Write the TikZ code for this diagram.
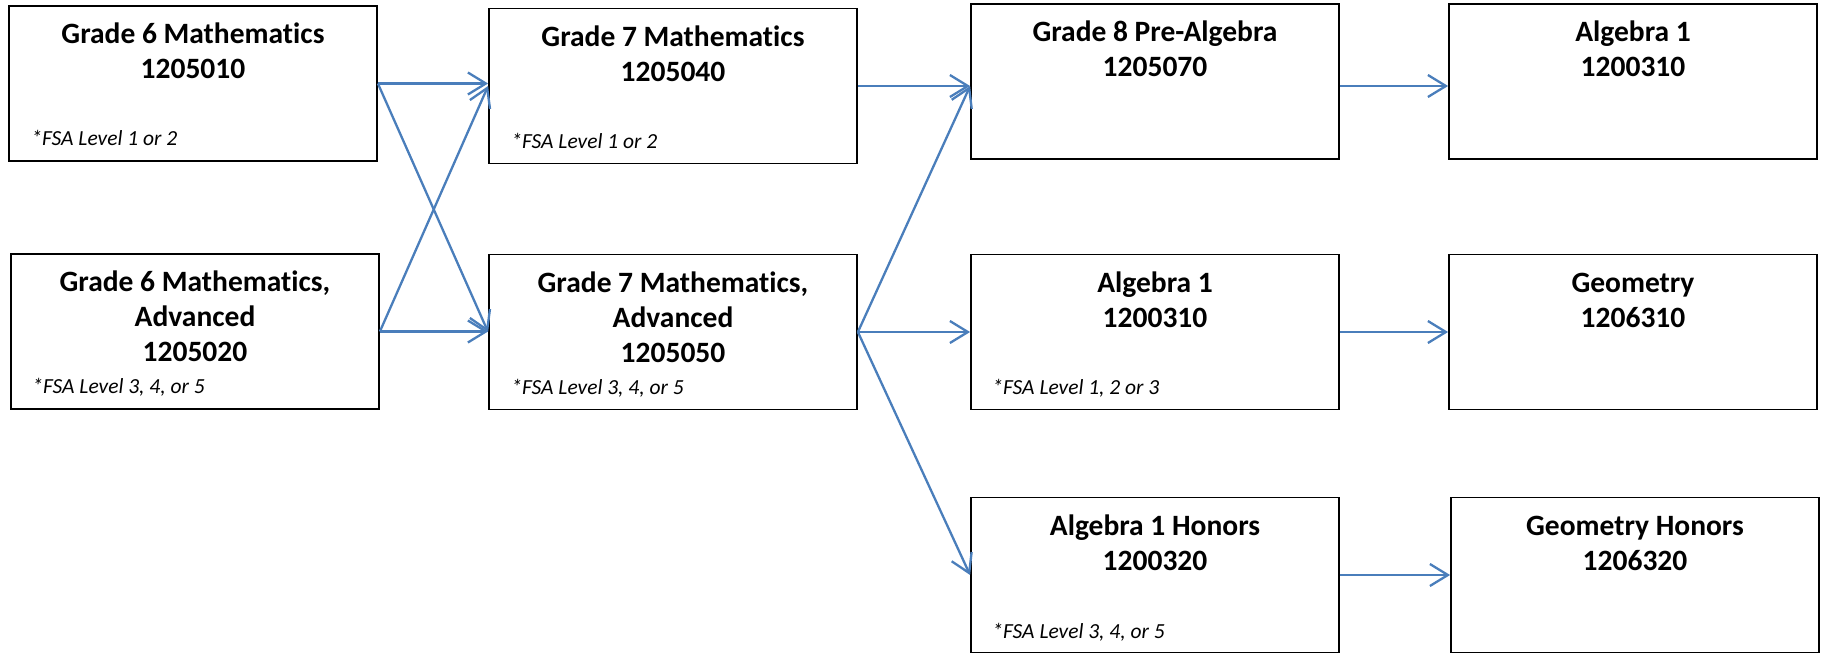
\documentclass[tikz,border=0pt]{standalone}
\usepackage{fontspec}
\setmainfont[Ligatures=NoCommon]{Carlito}
\usetikzlibrary{arrows.meta}
\definecolor{arrowblue}{HTML}{4A7EBB}
\tikzset{
  box/.style={draw=black, line width=1.8pt, minimum width=368pt, minimum height=155pt, inner sep=0pt},
  title/.style={anchor=base, align=center, font=\fontsize{29.5}{35}\selectfont\bfseries, inner sep=0pt},
  note/.style={anchor=base west, font=\fontsize{21.5}{24}\selectfont\itshape, inner sep=0pt},
  conn/.style={draw=arrowblue, line width=2.3pt, -{Straight Barb[length=18pt,width=22pt]}},
}
\begin{document}
\begin{tikzpicture}[x=1pt,y=-1pt]
\useasboundingbox (0,0) rectangle (1826,653);
% boxes
\node[box] (g6)  at (193,83.5) {};
\node[box] (g6a) at (195,331.5) {};
\node[box] (g7)  at (673,86) {};
\node[box] (g7a) at (673,332) {};
\node[box] (g8)  at (1155,81.5) {};
\node[box] (a1m) at (1155,332) {};
\node[box] (a1h) at (1155,575) {};
\node[box] (a1t) at (1633,81.5) {};
\node[box] (geo) at (1633,332) {};
\node[box] (geoh) at (1635,575) {};
% titles (base anchor = last line baseline)
\node[title] (g6t)  at ([yshift=-73.5pt]g6.north)  {Grade 6 Mathematics\\1205010};
\node[title] (g6at) at ([yshift=-108.5pt]g6a.north) {Grade 6 Mathematics,\\Advanced\\1205020};
\node[title] (g7t)  at ([yshift=-73.5pt]g7.north)  {Grade 7 Mathematics\\1205040};
\node[title] (g7at) at ([yshift=-108.5pt]g7a.north) {Grade 7 Mathematics,\\Advanced\\1205050};
\node[title] (g8t)  at ([yshift=-73.5pt]g8.north)  {Grade 8 Pre-Algebra\\1205070};
\node[title] (a1mt) at ([yshift=-73.5pt]a1m.north) {Algebra 1\\1200310};
\node[title] (a1ht) at ([yshift=-73.5pt]a1h.north) {Algebra 1 Honors\\1200320};
\node[title] (a1tt) at ([yshift=-73.5pt]a1t.north) {Algebra 1\\1200310};
\node[title] (geot) at ([yshift=-73.5pt]geo.north) {Geometry\\1206310};
\node[title] (geoht) at ([yshift=-73.5pt]geoh.north) {Geometry Honors\\1206320};
% notes
\node[note] (g6n)  at ([xshift=23pt,yshift=16pt]g6.south west)  {*FSA Level 1 or 2};
\node[note] (g6an) at ([xshift=22pt,yshift=16pt]g6a.south west) {*FSA Level 3, 4, or 5};
\node[note] (g7n)  at ([xshift=23pt,yshift=16pt]g7.south west)  {*FSA Level 1 or 2};
\node[note] (g7an) at ([xshift=23pt,yshift=16pt]g7a.south west) {*FSA Level 3, 4, or 5};
\node[note] (a1mn) at ([xshift=22pt,yshift=16pt]a1m.south west) {*FSA Level 1, 2 or 3};
\node[note] (a1hn) at ([xshift=22pt,yshift=15pt]a1h.south west) {*FSA Level 3, 4, or 5};
% connectors
\draw[conn] (g6.east) -- (g6.east -| g7.west);
\draw[conn] (g6.east) -- (g7a.west);
\draw[conn] (g6a.east) -- (g7.west);
\draw[conn] (g6a.east) -- (g6a.east -| g7a.west);
\draw[conn] (g7.east) -- (g7.east -| g8.west);
\draw[conn] (g7a.east) -- (g7.east -| g8.west);
\draw[conn] (g7a.east) -- (g7a.east -| a1m.west);
\draw[conn] (g7a.east) -- (a1h.west);
\draw[conn] (g7.east -| g8.east) -- (g7.east -| a1t.west);
\draw[conn] (a1m.east) -- (geo.west);
\draw[conn] (a1h.east) -- (a1h.east -| geoh.west);
\end{tikzpicture}
\end{document}
